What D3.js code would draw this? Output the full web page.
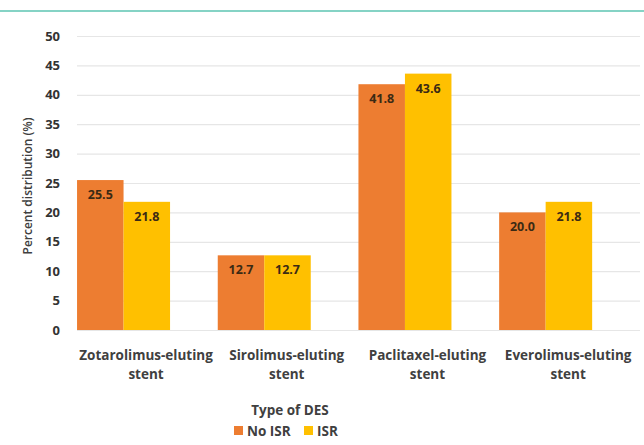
<!DOCTYPE html>
<html><head><meta charset="utf-8">
<script src="https://cdn.jsdelivr.net/npm/d3@7"></script>
<style>body{margin:0;background:#fff}svg{display:block}text{font-family:"Open Sans",Lato,sans-serif}</style>
</head><body>
<svg id="c" width="644" height="445"></svg>
<script>
const categories = [["Zotarolimus-eluting","stent"],["Sirolimus-eluting","stent"],["Paclitaxel-eluting","stent"],["Everolimus-eluting","stent"]];
const series = ["No ISR","ISR"];
const noISR = [25.5, 12.7, 41.8, 20.0];
const isr = [21.8, 12.7, 43.6, 21.8];
const yTicks = [0,5,10,15,20,25,30,35,40,45,50];
const colors = ["#ED7D31","#FFC000"];

const svg = d3.select("#c");
svg.append("line").attr("x1",0).attr("x2",644).attr("y1",11).attr("y2",11)
  .attr("stroke","#5cc4b2").attr("stroke-width",1.5);

const y = d3.scaleLinear().domain([0,50]).range([330,36]);
const x0 = d3.scaleBand().domain(d3.range(4)).range([53.2,616]).paddingInner(0.339).paddingOuter(0.1695);
const x1 = d3.scaleBand().domain(series).range([0,x0.bandwidth()]);

const gridLeft = 77, gridRight = 640;
const yAxis = d3.axisLeft(y).tickValues(yTicks).tickSize(-(gridRight-gridLeft)).tickPadding(17);
const ga = svg.append("g").attr("transform",`translate(${gridLeft},0)`).call(yAxis);
ga.select(".domain").remove();
ga.selectAll(".tick line").attr("stroke","#e6e6e6").attr("stroke-width",1.2);
ga.selectAll(".tick text").attr("fill","#333").attr("font-size",13).attr("font-weight",700);

const data = categories.map((c,i)=>({i, vals:[noISR[i], isr[i]]}));
const g = svg.append("g");
const grp = g.selectAll("g.grp").data(data).join("g").attr("transform",d=>`translate(${x0(d.i)},0)`);
grp.selectAll("rect").data(d=>d.vals.map((v,k)=>({k,v}))).join("rect")
  .attr("x",d=>x1(series[d.k])).attr("width",x1.bandwidth())
  .attr("y",d=>y(d.v)).attr("height",d=>y(0)-y(d.v)).attr("fill",d=>colors[d.k]);
grp.selectAll("text.val").data(d=>d.vals.map((v,k)=>({k,v}))).join("text").attr("class","val")
  .attr("x",d=>x1(series[d.k])+x1.bandwidth()/2).attr("y",d=>y(d.v)+19)
  .attr("text-anchor","middle").attr("font-size",12.5).attr("font-weight",700).attr("fill","#3b2a14")
  .text(d=>d.v.toFixed(1));

const labelShift = 22.5;
grp.append("text").attr("text-anchor","middle")
  .attr("font-size",13.5).attr("font-weight",700).attr("fill","#404040")
  .selectAll("tspan").data(d=>categories[d.i]).join("tspan")
  .attr("x",x0.bandwidth()/2+labelShift).attr("y",(d,k)=>360+k*19).text(d=>d);

svg.append("text").attr("x",290).attr("y",415).attr("text-anchor","middle")
  .attr("font-size",13.5).attr("font-weight",700).attr("fill","#404040").text("Type of DES");

svg.append("text").attr("transform","translate(32,186) rotate(-90)").attr("text-anchor","middle")
  .attr("font-size",12).attr("font-weight",600).attr("fill","#404040").text("Percent distribution (%)");

const leg = svg.append("g");
const legX = [234, 304];
series.forEach((s,k)=>{
  leg.append("rect").attr("x",legX[k]).attr("y",426).attr("width",9).attr("height",9).attr("fill",colors[k]);
  leg.append("text").attr("x",legX[k]+13).attr("y",436).attr("font-size",13.5).attr("font-weight",700).attr("fill","#404040").text(s);
});
</script>
</body></html>
